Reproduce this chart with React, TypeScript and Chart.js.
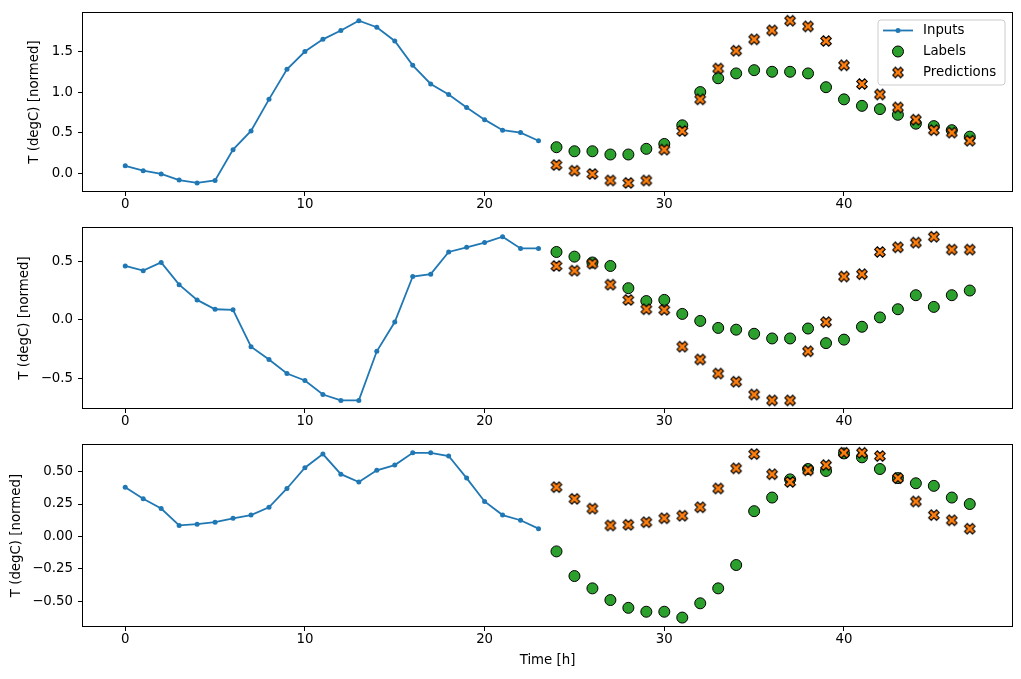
import React, { useEffect, useRef } from "react";
import { Chart, registerables } from "chart.js";

Chart.register(...registerables);

// ---------------- DATA ----------------
const inputHours = [0, 1, 2, 3, 4, 5, 6, 7, 8, 9, 10, 11, 12, 13, 14, 15, 16, 17, 18, 19, 20, 21, 22, 23];
const labelHours = [24, 25, 26, 27, 28, 29, 30, 31, 32, 33, 34, 35, 36, 37, 38, 39, 40, 41, 42, 43, 44, 45, 46, 47];

const seriesNames = ["Inputs", "Labels", "Predictions"];

const inputs1 = [0.09, 0.03, -0.01, -0.085, -0.12, -0.09, 0.29, 0.52, 0.91, 1.28, 1.5, 1.65, 1.76, 1.88, 1.8, 1.63, 1.33, 1.1, 0.97, 0.81, 0.66, 0.53, 0.5, 0.4];
const labels1 = [0.32, 0.27, 0.27, 0.23, 0.23, 0.3, 0.36, 0.59, 1.0, 1.17, 1.23, 1.27, 1.25, 1.25, 1.23, 1.06, 0.91, 0.83, 0.79, 0.72, 0.61, 0.58, 0.53, 0.45];
const predictions1 = [0.1, 0.03, -0.01, -0.09, -0.12, -0.09, 0.29, 0.52, 0.91, 1.29, 1.51, 1.65, 1.76, 1.88, 1.81, 1.63, 1.33, 1.1, 0.97, 0.81, 0.66, 0.53, 0.5, 0.4];

const inputs2 = [0.46, 0.42, 0.49, 0.3, 0.17, 0.09, 0.085, -0.23, -0.34, -0.46, -0.52, -0.64, -0.69, -0.69, -0.27, -0.02, 0.37, 0.39, 0.58, 0.62, 0.66, 0.71, 0.61, 0.61];
const labels2 = [0.58, 0.54, 0.49, 0.46, 0.27, 0.16, 0.17, 0.05, -0.01, -0.07, -0.085, -0.12, -0.16, -0.16, -0.075, -0.2, -0.17, -0.06, 0.02, 0.09, 0.21, 0.11, 0.21, 0.25];
const predictions2 = [0.46, 0.42, 0.48, 0.3, 0.17, 0.09, 0.085, -0.23, -0.34, -0.46, -0.53, -0.64, -0.69, -0.69, -0.27, -0.02, 0.37, 0.39, 0.58, 0.62, 0.66, 0.71, 0.6, 0.6];

const inputs3 = [0.38, 0.29, 0.215, 0.085, 0.095, 0.11, 0.14, 0.165, 0.225, 0.37, 0.53, 0.635, 0.48, 0.42, 0.51, 0.55, 0.645, 0.645, 0.62, 0.45, 0.27, 0.165, 0.125, 0.06];
const labels3 = [-0.115, -0.305, -0.4, -0.49, -0.55, -0.58, -0.58, -0.625, -0.515, -0.4, -0.22, 0.195, 0.3, 0.44, 0.52, 0.505, 0.64, 0.61, 0.52, 0.45, 0.41, 0.39, 0.3, 0.25];
const predictions3 = [0.38, 0.29, 0.215, 0.085, 0.09, 0.11, 0.14, 0.16, 0.225, 0.37, 0.525, 0.635, 0.48, 0.42, 0.51, 0.55, 0.645, 0.645, 0.62, 0.45, 0.27, 0.165, 0.125, 0.06];

const xTicks = [0, 10, 20, 30, 40];
const xTickLabels = ["0", "10", "20", "30", "40"];
const xLimits = [-2.35, 49.35];

const yTicks1 = [0, 0.5, 1.0, 1.5];
const yTickLabels1 = ["0.0", "0.5", "1.0", "1.5"];
const yLimits1 = [-0.22, 1.975];

const yTicks2 = [-0.5, 0, 0.5];
const yTickLabels2 = ["\u22120.5", "0.0", "0.5"];
const yLimits2 = [-0.755, 0.785];

const yTicks3 = [-0.5, -0.25, 0, 0.25, 0.5];
const yTickLabels3 = ["\u22120.50", "\u22120.25", "0.00", "0.25", "0.50"];
const yLimits3 = [-0.69, 0.705];

const yTitle = "T (degC) [normed]";
const xTitle = "Time [h]";

// ---------------- STYLE ----------------
const BLUE = "#1f77b4";
const GREEN = "#2ca02c";
const ORANGE = "#ff7f0e";
const FONT = "'DejaVu Sans', sans-serif";
const FS = 13.33;

const W = 1021;

function makeXMarker(size: number): HTMLCanvasElement {
  const c = document.createElement("canvas");
  const dim = Math.ceil(size + 3);
  c.width = dim;
  c.height = dim;
  const ctx = c.getContext("2d")!;
  const u = size / 4;
  const pts = [
    [-1, -2], [0, -1], [1, -2], [2, -1], [1, 0], [2, 1],
    [1, 2], [0, 1], [-1, 2], [-2, 1], [-1, 0], [-2, -1],
  ];
  ctx.translate(dim / 2, dim / 2);
  ctx.beginPath();
  pts.forEach(([x, y], i) => {
    if (i === 0) ctx.moveTo(x * u, y * u);
    else ctx.lineTo(x * u, y * u);
  });
  ctx.closePath();
  ctx.fillStyle = ORANGE;
  ctx.fill();
  ctx.lineWidth = 1.1;
  ctx.lineJoin = "miter";
  ctx.strokeStyle = "#000";
  ctx.stroke();
  return c;
}

const framePlugin = {
  id: "frame",
  afterDatasetsDraw(chart: any) {
    const { ctx, chartArea } = chart;
    ctx.save();
    ctx.strokeStyle = "#000";
    ctx.lineWidth = 1;
    ctx.strokeRect(
      Math.round(chartArea.left) - 0.5,
      Math.round(chartArea.top) - 0.5,
      Math.round(chartArea.right - chartArea.left) + 1,
      Math.round(chartArea.bottom - chartArea.top) + 1
    );
    ctx.restore();
  },
};

function makeLegendPlugin(xMarker: HTMLCanvasElement) {
  return {
    id: "mplLegend",
    afterDraw(chart: any) {
      const { ctx, chartArea } = chart;
      const w = 127;
      const h = 65;
      const x0 = chartArea.right - 7 - w;
      const y0 = chartArea.top + 7;
      ctx.save();
      ctx.beginPath();
      const r = 3;
      ctx.moveTo(x0 + r, y0);
      ctx.lineTo(x0 + w - r, y0);
      ctx.quadraticCurveTo(x0 + w, y0, x0 + w, y0 + r);
      ctx.lineTo(x0 + w, y0 + h - r);
      ctx.quadraticCurveTo(x0 + w, y0 + h, x0 + w - r, y0 + h);
      ctx.lineTo(x0 + r, y0 + h);
      ctx.quadraticCurveTo(x0, y0 + h, x0, y0 + h - r);
      ctx.lineTo(x0, y0 + r);
      ctx.quadraticCurveTo(x0, y0, x0 + r, y0);
      ctx.closePath();
      ctx.fillStyle = "rgba(255,255,255,0.8)";
      ctx.fill();
      ctx.strokeStyle = "#cccccc";
      ctx.lineWidth = 1;
      ctx.stroke();

      const hx = x0 + 20;
      const rows = [y0 + 10.5, y0 + 31.5, y0 + 52.5];
      // Inputs handle
      ctx.strokeStyle = BLUE;
      ctx.lineWidth = 1.8;
      ctx.beginPath();
      ctx.moveTo(x0 + 5, rows[0]);
      ctx.lineTo(x0 + 35, rows[0]);
      ctx.stroke();
      ctx.fillStyle = BLUE;
      ctx.beginPath();
      ctx.arc(hx, rows[0], 2.5, 0, Math.PI * 2);
      ctx.fill();
      // Labels handle
      ctx.beginPath();
      ctx.arc(hx, rows[1], 5.5, 0, Math.PI * 2);
      ctx.fillStyle = GREEN;
      ctx.fill();
      ctx.strokeStyle = "#000";
      ctx.lineWidth = 1;
      ctx.stroke();
      // Predictions handle
      ctx.drawImage(xMarker, hx - xMarker.width / 2, rows[2] - xMarker.height / 2);

      ctx.fillStyle = "#000";
      ctx.font = `${FS}px ${FONT}`;
      ctx.textBaseline = "middle";
      ctx.textAlign = "left";
      seriesNames.forEach((name, i) => {
        ctx.fillText(name, x0 + 45, rows[i]);
      });
      ctx.restore();
    },
  };
}

type PanelProps = {
  top: number;
  height: number;
  padTop: number;
  xAxisHeight: number;
  inputs: number[];
  labels: number[];
  predictions: number[];
  yTicks: number[];
  yTickLabels: string[];
  yLimits: number[];
  yTitlePad: number;
  showLegend?: boolean;
  showXTitle?: boolean;
};

function Panel(props: PanelProps) {
  const ref = useRef<HTMLCanvasElement | null>(null);
  useEffect(() => {
    const canvas = ref.current;
    if (!canvas) return;
    const xMarker = makeXMarker(10.5);
    const plugins: any[] = [framePlugin];
    if (props.showLegend) plugins.push(makeLegendPlugin(xMarker));

    const chart = new Chart(canvas, {
      type: "scatter",
      data: {
        datasets: [
          {
            label: seriesNames[0],
            data: inputHours.map((h, i) => ({ x: h, y: props.inputs[i] })),
            showLine: true,
            borderColor: BLUE,
            backgroundColor: BLUE,
            borderWidth: 1.8,
            pointRadius: 2.5,
            pointBorderWidth: 0,
            pointBackgroundColor: BLUE,
            order: 2,
          } as any,
          {
            label: seriesNames[1],
            data: labelHours.map((h, i) => ({ x: h, y: props.labels[i] })),
            pointRadius: 5.5,
            pointBorderWidth: 1,
            pointBorderColor: "#000",
            pointBackgroundColor: GREEN,
            backgroundColor: GREEN,
            borderColor: "#000",
            order: 1,
          },
          {
            label: seriesNames[2],
            data: labelHours.map((h, i) => ({ x: h, y: props.predictions[i] })),
            pointStyle: xMarker,
            pointRadius: 6,
            order: 0,
          } as any,
        ],
      },
      options: {
        animation: false,
        responsive: false,
        devicePixelRatio: 1,
        layout: { padding: { top: props.padTop, right: W - 1012, left: 0, bottom: 0 } },
        plugins: { legend: { display: false }, tooltip: { enabled: false } },
        scales: {
          x: {
            type: "linear",
            min: xLimits[0],
            max: xLimits[1],
            afterFit: (scale: any) => {
              scale.height = props.xAxisHeight;
            },
            afterBuildTicks: (scale: any) => {
              scale.ticks = xTicks.map((v) => ({ value: v }));
            },
            grid: {
              drawOnChartArea: false,
              drawTicks: true,
              tickLength: 5,
              color: "#000",
              lineWidth: 1,
            },
            border: { display: false },
            ticks: {
              color: "#000",
              font: { family: FONT, size: FS },
              padding: 1,
              maxRotation: 0,
              autoSkip: false,
              callback: (v: any) => {
                const i = xTicks.indexOf(Number(v));
                return i >= 0 ? xTickLabels[i] : "";
              },
            },
            title: {
              display: !!props.showXTitle,
              text: xTitle,
              color: "#000",
              font: { family: FONT, size: FS },
              padding: { top: 0, bottom: 10 },
            },
          } as any,
          y: {
            type: "linear",
            min: props.yLimits[0],
            max: props.yLimits[1],
            afterFit: (scale: any) => {
              scale.width = 83;
            },
            afterBuildTicks: (scale: any) => {
              scale.ticks = props.yTicks.map((v) => ({ value: v }));
            },
            grid: {
              drawOnChartArea: false,
              drawTicks: true,
              tickLength: 5,
              color: "#000",
              lineWidth: 1,
            },
            border: { display: false },
            ticks: {
              color: "#000",
              font: { family: FONT, size: FS },
              padding: 5,
              autoSkip: false,
              callback: (v: any) => {
                const i = props.yTicks.indexOf(Number(v));
                return i >= 0 ? props.yTickLabels[i] : "";
              },
            },
            title: {
              display: true,
              text: yTitle,
              color: "#000",
              font: { family: FONT, size: FS },
              padding: { top: props.yTitlePad, bottom: 0 },
            },
          } as any,
        },
      },
      plugins,
    });
    return () => chart.destroy();
  }, []);

  return (
    <canvas
      ref={ref}
      width={W}
      height={props.height}
      style={{ position: "absolute", left: 0, top: props.top, width: W, height: props.height }}
    />
  );
}

export default function App() {
  return (
    <div style={{ position: "absolute", left: 0, top: 0, width: W, height: 679, background: "#fff", overflow: "hidden" }}>
      <Panel
        top={0}
        height={215}
        padTop={11}
        xAxisHeight={24}
        inputs={inputs1}
        labels={labels1}
        predictions={predictions1}
        yTicks={yTicks1}
        yTickLabels={yTickLabels1}
        yLimits={yLimits1}
        yTitlePad={27}
        showLegend
      />
      <Panel
        top={215}
        height={215}
        padTop={12}
        xAxisHeight={22}
        inputs={inputs2}
        labels={labels2}
        predictions={predictions2}
        yTicks={yTicks2}
        yTickLabels={yTickLabels2}
        yLimits={yLimits2}
        yTitlePad={17}
      />
      <Panel
        top={430}
        height={249}
        padTop={15}
        xAxisHeight={53}
        inputs={inputs3}
        labels={labels3}
        predictions={predictions3}
        yTicks={yTicks3}
        yTickLabels={yTickLabels3}
        yLimits={yLimits3}
        yTitlePad={9}
        showXTitle
      />
    </div>
  );
}
